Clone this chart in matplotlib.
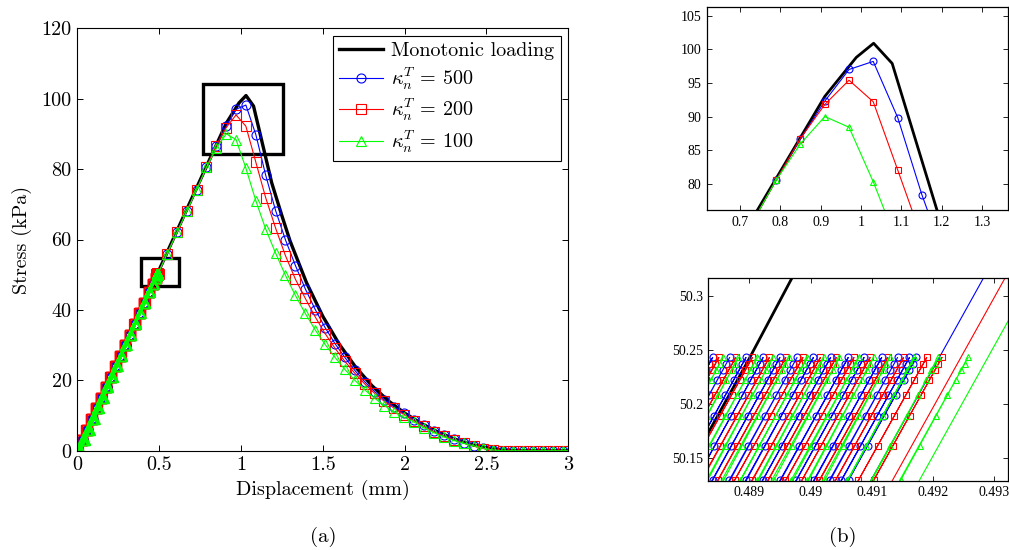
import numpy as np
import matplotlib
matplotlib.use('Agg')
import matplotlib.pyplot as plt
from matplotlib.patches import Rectangle

plt.rcParams['font.family'] = 'cmr10'
plt.rcParams['mathtext.fontset'] = 'cm'
plt.rcParams['axes.formatter.use_mathtext'] = True

# monotonic loading curve
mono_x = [0.0, 0.48898, 0.48969, 0.743, 0.91, 0.988, 1.031, 1.077, 1.188, 1.25, 1.30,
          1.40, 1.50, 1.60, 1.70, 1.80, 1.90, 2.00, 2.10, 2.20, 2.30, 2.40, 2.50,
          2.60, 2.70, 3.0]
mono_y = [0.0, 50.240, 50.316, 76.1, 93.0, 98.8, 100.9, 97.9, 76.1, 66.8, 59.6,
          47.8, 38.2, 30.3, 23.8, 18.5, 14.2, 10.7, 7.8, 5.4, 3.4, 1.9, 0.8,
          0.2, 0.0, 0.0]

# recorded points after the cyclic part (same displacement steps for all cases)
grid_x = [0.548, 0.609, 0.669, 0.729, 0.789, 0.849, 0.910, 0.970, 1.030, 1.091,
          1.151, 1.212, 1.272, 1.333, 1.393, 1.454, 1.514, 1.575, 1.635, 1.696,
          1.756, 1.817, 1.877, 1.938, 1.998, 2.059, 2.119, 2.180, 2.240, 2.301,
          2.361, 2.422, 2.482, 2.543, 2.603, 2.664, 2.724, 2.785, 2.845, 2.906,
          2.966, 3.027]
blue_y = [55.95, 62.0, 68.0, 74.1, 80.5, 86.6, 92.3, 97.0, 98.2, 89.8,
          78.3, 68.2, 59.9, 52.6, 46.0, 40.1, 35.0, 30.4, 26.5, 22.8,
          19.6, 16.8, 14.4, 12.4, 10.6, 8.8, 7.2, 5.7, 4.4, 3.3,
          2.3, 1.4, 0.7, 0.2, 0, 0, 0, 0, 0, 0, 0, 0]
red_y = [55.91, 62.0, 68.0, 74.1, 80.5, 86.7, 91.8, 95.4, 92.2, 82.0,
         71.9, 63.2, 55.4, 48.7, 43.3, 38.0, 33.3, 29.1, 25.4, 22.0,
         19.0, 16.3, 14.0, 12.0, 10.2, 8.5, 6.9, 5.4, 4.2, 3.1,
         2.2, 1.3, 0.6, 0.2, 0, 0, 0, 0, 0, 0, 0, 0]
green_y = [55.86, 62.0, 68.0, 74.1, 80.5, 85.9, 90.0, 88.4, 80.3, 71.0,
           63.0, 56.1, 49.8, 44.1, 39.0, 34.3, 30.2, 26.5, 23.1, 20.0,
           17.3, 14.9, 12.8, 11.0, 9.5, 8.1, 6.5, 5.1, 3.9, 2.9,
           2.1, 1.4, 0.7, 0.2, 0, 0, 0, 0, 0, 0, 0, 0]

# cyclic part: stress levels of the recorded points of each reload
cycle_stress = [0, 3, 6, 9, 12, 15, 18, 21, 24, 27, 30, 33, 36, 39, 42, 45,
                47.5, 49.2, 49.8, 50.02, 50.084,
                50.129, 50.161, 50.189, 50.208, 50.222, 50.231, 50.237, 50.243]
ref_stress = 50.129
# displacement where each reload crosses 50.129 kPa, and its start displacement
blue_x0 = [0.48730, 0.48757, 0.48785, 0.48812, 0.48840, 0.48867, 0.48895,
           0.48922, 0.48950, 0.48977, 0.49005, 0.49032, 0.49050, 0.49062]
red_x0 = [0.48739, 0.48766, 0.48794, 0.48821, 0.48849, 0.48876, 0.48904,
          0.48931, 0.48959, 0.48986, 0.49014, 0.49041, 0.49078, 0.49103]
green_x0 = [0.48748, 0.48775, 0.48803, 0.48830, 0.48858, 0.48885, 0.48913,
            0.48940, 0.48968, 0.48995, 0.49023, 0.49060, 0.49100, 0.49147]
blue_r = [0.003, 0.0, 0.006, 0.002, 0.005, 0.001, 0.007,
          0.002, -0.001, 0.004, 0.001, 0.006, 0.0, 0.003]
red_r = [-0.002, -0.004, 0.0, -0.003, 0.002, -0.002, -0.004,
         0.001, -0.003, 0.0, -0.002, 0.002, -0.001, 0.0]
green_r = [0.008, 0.016, 0.004, 0.012, 0.020, 0.006, 0.010,
           0.018, 0.002, 0.014, 0.022, 0.008, 0.012, 0.006]


def build(r_list, x0_list, tail_y):
    xs, ys = [], []
    for r, x0 in zip(r_list, x0_list):
        for s in cycle_stress:
            xs.append(r + (x0 - r) * s / ref_stress)
            ys.append(s)
    xs.append(0.0)
    ys.append(0.0)
    return np.array(xs + grid_x), np.array(ys + tail_y)


series = [
    (build(blue_r, blue_x0, blue_y), 'b', 'o', r'$\kappa_n^T\,=\,500$'),
    (build(red_r, red_x0, red_y), 'r', 's', r'$\kappa_n^T\,=\,200$'),
    (build(green_r, green_x0, green_y), (0, 1, 0), '^', r'$\kappa_n^T\,=\,100$'),
]

fig = plt.figure(figsize=(10.09, 5.5), dpi=100)

# main plot
ax = fig.add_axes([0.0766, 0.1805, 0.4866, 0.768])
ax.plot(mono_x, mono_y, 'k-', lw=2.4, label='Monotonic loading')
for (x, y), c, m, lab in series:
    ax.plot(x, y, color=c, marker=m, ms=6.5, mfc='none', mew=0.8, lw=0.8, label=lab)
ax.set_xlim(0, 3)
ax.set_ylim(0, 120)
ax.set_xticks([0, 0.5, 1, 1.5, 2, 2.5, 3], ['0', '0.5', '1', '1.5', '2', '2.5', '3'])
ax.set_yticks(range(0, 121, 20), [str(v) for v in range(0, 121, 20)])
ax.tick_params(direction='in', top=True, right=True, length=4, width=0.7,
               labelsize=14.5, pad=4)
for sp in ax.spines.values():
    sp.set_linewidth(0.8)
ax.set_xlabel('Displacement (mm)', fontsize=14.5)
ax.set_ylabel('Stress (kPa)', fontsize=14.5)
ax.xaxis.set_label_coords(0.5, -0.068)
ax.yaxis.set_label_coords(-0.092, 0.5)
ax.add_patch(Rectangle((0.770, 84.4), 0.485, 19.7, fill=False, ec='k', lw=2.4))
ax.add_patch(Rectangle((0.387, 46.9), 0.232, 7.9, fill=False, ec='k', lw=2.4))
leg = ax.legend(loc='upper right', fontsize=14.5, fancybox=False, edgecolor='k',
                framealpha=1, borderaxespad=0.38, handlelength=2.2,
                labelspacing=0.25, handletextpad=0.4, borderpad=0.3)
leg.get_frame().set_linewidth(0.8)

# zoom around the peak
ax2 = fig.add_axes([0.7004, 0.6182, 0.2989, 0.3685])
ax2.plot(mono_x, mono_y, 'k-', lw=2.0)
for (x, y), c, m, lab in series:
    ax2.plot(x, y, color=c, marker=m, ms=5, mfc='none', mew=0.8, lw=0.8)
ax2.set_xlim(0.617, 1.365)
ax2.set_ylim(76.09, 106.25)
ax2.set_xticks([0.7, 0.8, 0.9, 1.0, 1.1, 1.2, 1.3], ['0.7', '0.8', '0.9', '1', '1.1', '1.2', '1.3'])
ax2.set_yticks([80, 85, 90, 95, 100, 105], ['80', '85', '90', '95', '100', '105'])

# zoom on the cyclic part
ax3 = fig.add_axes([0.702, 0.126, 0.2973, 0.368])
ax3.plot(mono_x, mono_y, 'k-', lw=2.0)
for (x, y), c, m, lab in series:
    ax3.plot(x, y, color=c, marker=m, ms=5, mfc='none', mew=0.8, lw=0.8)
ax3.set_xlim(0.48833, 0.49323)
ax3.set_ylim(50.1287, 50.3164)
ax3.set_xticks([0.489, 0.490, 0.491, 0.492, 0.493], ['0.489', '0.49', '0.491', '0.492', '0.493'])
ax3.set_yticks([50.15, 50.2, 50.25, 50.3], ['50.15', '50.2', '50.25', '50.3'])

for a in (ax2, ax3):
    a.tick_params(direction='in', top=True, right=True, length=3.5, width=0.6, pad=4)
    for lab in a.get_xticklabels() + a.get_yticklabels():
        lab.set_fontfamily('Liberation Serif')
        lab.set_fontsize(10)
    for sp in a.spines.values():
        sp.set_linewidth(0.9)

fig.text(322.8 / 1009, 1 - 537 / 550, '(a)', ha='center', va='center', fontsize=15)
fig.text(843 / 1009, 1 - 537 / 550, '(b)', ha='center', va='center', fontsize=15)

fig.savefig('out.png', dpi=100)
